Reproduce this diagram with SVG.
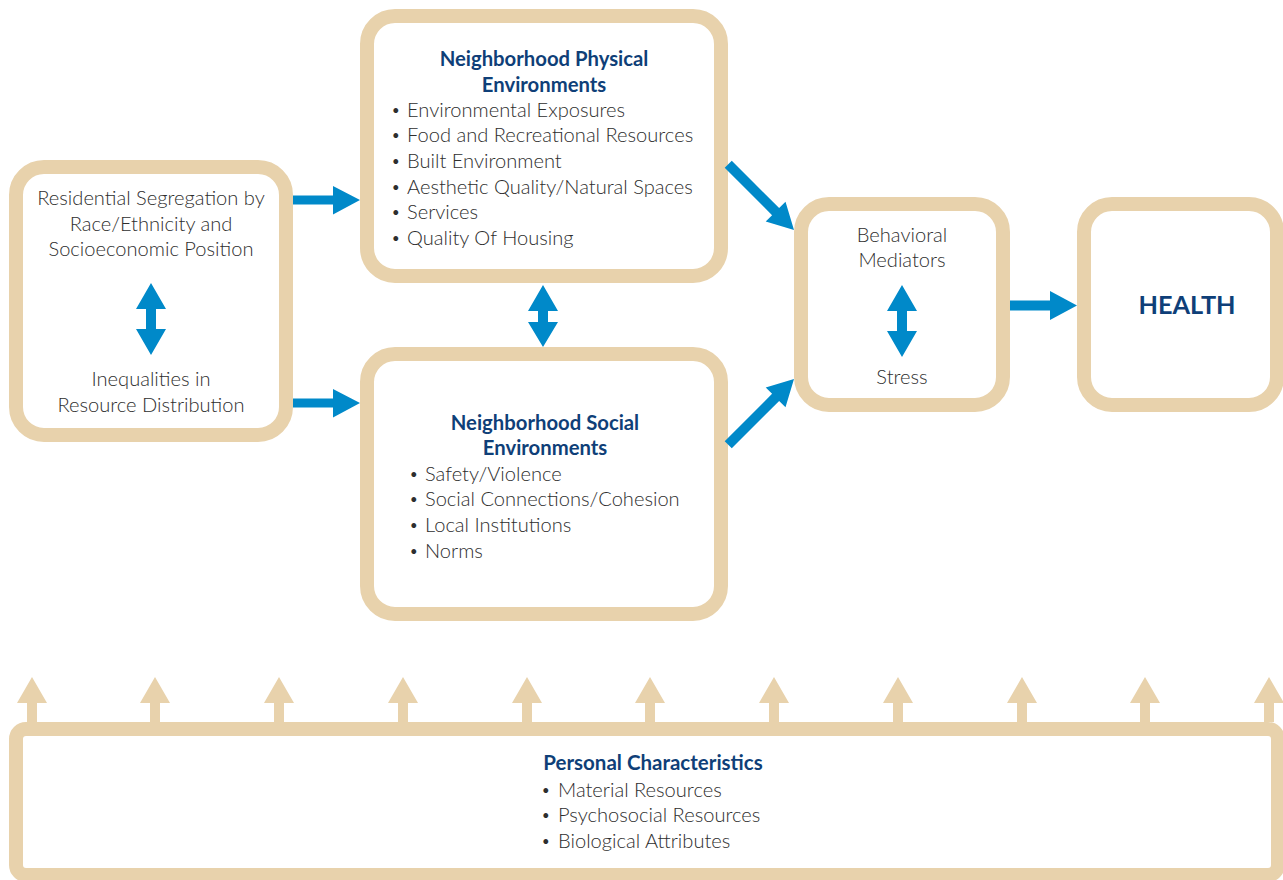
<svg xmlns="http://www.w3.org/2000/svg" width="1283" height="880" viewBox="0 0 1283 880">
<defs>
<style>
.box{fill:#fff;stroke:#e8d2ac;stroke-width:14}
.t{font-family:Lato,"Open Sans","Liberation Sans",sans-serif;font-size:20.1px;fill:#2e2e2e;font-weight:300}
.c{text-anchor:middle}
.b{font-size:13px;font-weight:400}
.h{font-family:Lato,"Open Sans","Liberation Sans",sans-serif;font-size:20.3px;fill:#0f3f78;font-weight:700;text-anchor:middle}
.blue{fill:#0089c9}
.beige{fill:#e8d2ac}
</style>
<polygon id="up" class="beige" points="0,0 15,26 5,26 5,45 -5,45 -5,26 -15,26"/>
</defs>

<g id="personal-arrows">
<use href="#up" x="32" y="677"/>
<use href="#up" x="155" y="677"/>
<use href="#up" x="279" y="677"/>
<use href="#up" x="403" y="677"/>
<use href="#up" x="527" y="677"/>
<use href="#up" x="650" y="677"/>
<use href="#up" x="774" y="677"/>
<use href="#up" x="898" y="677"/>
<use href="#up" x="1022" y="677"/>
<use href="#up" x="1145" y="677"/>
<use href="#up" x="1269" y="677"/>
</g>

<g id="residential">
<rect class="box" x="16" y="167" width="270" height="268" rx="28"/>
<text class="t c" x="151" y="205">Residential Segregation by</text>
<text class="t c" x="151" y="231">Race/Ethnicity and</text>
<text class="t c" x="151" y="256">Socioeconomic Position</text>
<text class="t c" x="151" y="386">Inequalities in</text>
<text class="t c" x="151" y="412">Resource Distribution</text>
</g>

<g id="physical">
<rect class="box" x="367" y="16" width="354" height="260" rx="28"/>
<text class="h" x="544" y="66">Neighborhood Physical</text>
<text class="h" x="544" y="92">Environments</text>
<text class="t b" x="392" y="115">•</text><text class="t" x="407" y="117">Environmental Exposures</text>
<text class="t b" x="392" y="140">•</text><text class="t" x="407" y="142">Food and Recreational Resources</text>
<text class="t b" x="392" y="166">•</text><text class="t" x="407" y="168">Built Environment</text>
<text class="t b" x="392" y="192">•</text><text class="t" x="407" y="194">Aesthetic Quality/Natural Spaces</text>
<text class="t b" x="392" y="217">•</text><text class="t" x="407" y="219">Services</text>
<text class="t b" x="392" y="243">•</text><text class="t" x="407" y="245">Quality Of Housing</text>
</g>

<g id="social">
<rect class="box" x="367" y="354" width="354" height="260" rx="28"/>
<text class="h" x="545" y="430">Neighborhood Social</text>
<text class="h" x="545" y="455">Environments</text>
<text class="t b" x="410" y="479">•</text><text class="t" x="425" y="481">Safety/Violence</text>
<text class="t b" x="410" y="504">•</text><text class="t" x="425" y="506">Social Connections/Cohesion</text>
<text class="t b" x="410" y="530">•</text><text class="t" x="425" y="532">Local Institutions</text>
<text class="t b" x="410" y="556">•</text><text class="t" x="425" y="558">Norms</text>
</g>

<g id="mediators">
<rect class="box" x="801" y="204" width="202" height="201" rx="28"/>
<text class="t c" x="902" y="242">Behavioral</text>
<text class="t c" x="902" y="267">Mediators</text>
<text class="t c" x="902" y="384">Stress</text>
</g>

<g id="health">
<rect class="box" x="1084" y="204" width="193" height="201" rx="28"/>
<text class="h" x="1187" y="314" style="font-size:25.3px">HEALTH</text>
</g>

<g id="personal">
<rect class="box" x="16" y="729" width="1262" height="146" rx="10"/>
<text class="h" x="653" y="770" style="font-size:20.5px">Personal Characteristics</text>
<text class="t b" x="542" y="795">•</text><text class="t" x="558" y="797">Material Resources</text>
<text class="t b" x="542" y="820">•</text><text class="t" x="558" y="822">Psychosocial Resources</text>
<text class="t b" x="542" y="846">•</text><text class="t" x="558" y="848">Biological Attributes</text>
</g>

<g id="connectors">
<polygon class="blue" points="293,195.5 333,195.5 333,186 360,200 333,214.5 333,204.5 293,204.5"/>
<polygon class="blue" points="293,398.5 333,398.5 333,389 360,403 333,417.5 333,407.5 293,407.5"/>
<polygon class="blue" points="1010,300.5 1050,300.5 1050,291 1077,305.5 1050,320 1050,310.5 1010,310.5"/>
<polygon class="blue" points="151,283 166,309 156,309 156,329 166,329 151,355 136,329 146,329 146,309 136,309"/>
<polygon class="blue" points="543,285 558,311 548,311 548,322 558,322 543,347 528,322 538,322 538,311 528,311"/>
<polygon class="blue" points="902,285 917,311 907,311 907,331 917,331 902,357 887,331 897,331 897,311 887,311"/>
<g transform="translate(794,230) rotate(45)">
<polygon class="blue" points="0,0 -26,14 -26,5 -93,5 -93,-5 -26,-5 -26,-14"/>
</g>
<g transform="translate(794,379) rotate(-45)">
<polygon class="blue" points="0,0 -26,14 -26,5 -93,5 -93,-5 -26,-5 -26,-14"/>
</g>
</g>
</svg>
